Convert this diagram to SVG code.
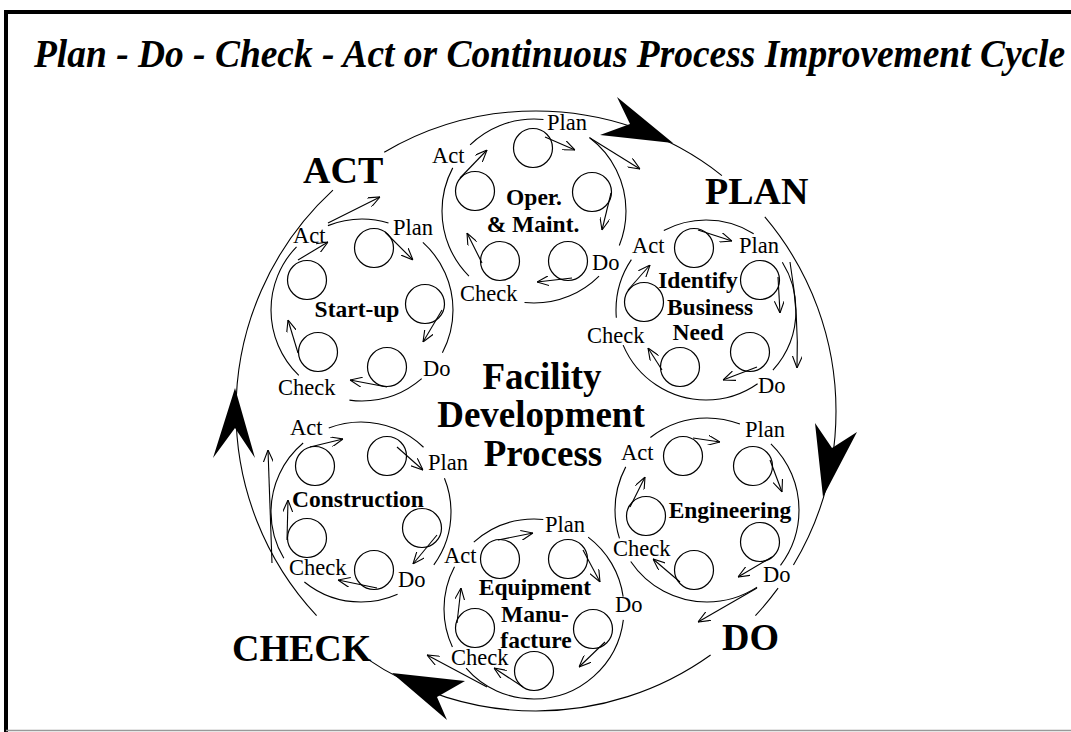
<svg xmlns="http://www.w3.org/2000/svg" width="1071" height="732" viewBox="0 0 1071 732">
  <defs>
    <marker id="ah" markerUnits="userSpaceOnUse" markerWidth="12" markerHeight="10" viewBox="0 0 12 10" refX="12" refY="5" orient="auto">
      <path d="M0,0 L12,5 L0,10" fill="none" stroke="#000" stroke-width="1.1"/>
    </marker>
    <style>
      .ln{fill:none;stroke:#000;stroke-width:1.1}
      .arw{fill:none;stroke:#000;stroke-width:1.1;marker-end:url(#ah)}
      .c{fill:none;stroke:#000;stroke-width:1.2}
      .big{font-family:"Liberation Serif",serif;font-weight:bold;font-size:38px}
      .ctr{font-family:"Liberation Serif",serif;font-weight:bold;font-size:37px;text-anchor:middle}
      .s{font-family:"Liberation Serif",serif;font-size:22.5px}
      .sb{font-family:"Liberation Serif",serif;font-weight:bold;font-size:23.5px;text-anchor:middle}
      .head{fill:#000}
    </style>
  </defs>

  <rect width="1071" height="732" fill="#fff"/>

  <!-- frame -->
  <g id="frame">
    <path d="M6,732 V12 H1071" fill="none" stroke="#000" stroke-width="4"/>
    <line x1="6" y1="730.5" x2="1071" y2="730.5" stroke="#999" stroke-width="1.5"/>
  </g>

  <text id="title" transform="translate(34,67) scale(0.936,1)" x="0" y="0" font-family="Liberation Serif, serif" font-weight="bold" font-style="italic" font-size="40">Plan - Do - Check - Act or Continuous Process Improvement Cycle</text>

  <!-- main cycle connectors -->
  <g id="connectors">
    <circle cx="536" cy="411" r="300" class="ln" pathLength="360" stroke-dasharray="30.9 5.3 6.8 11.4 70.3 12.3 90.4 12.2 68.7 11.4 40.3 0"/>
    <polygon class="head" points="673,143 617,97 630,124 600,135"/>
    <polygon class="head" points="823,497 857,432 832,448 815,423"/>
    <polygon class="head" points="392,673 465,681 437,697 447,720"/>
    <polygon class="head" points="235,388 255,458 235,428 213,458"/>
    <!-- hand-offs between phases -->
    <path class="arw" d="M590,138 L640,169"/>
    <path class="arw" d="M790,262 Q799,315 797,368"/>
    <path class="arw" d="M757,588 L698,622"/>
    <path class="arw" d="M487,687 L427,655"/>
    <path class="arw" d="M272,563 L268,450"/>
    <path class="arw" d="M328,223 L380,197"/>
  </g>

  <g id="act"><text class="big" x="303" y="183">ACT</text></g>
  <g id="plan"><text class="big" x="705" y="204">PLAN</text></g>
  <g id="do"><text class="big" x="722" y="650">DO</text></g>
  <g id="check"><text class="big" x="232" y="661">CHECK</text></g>

  <g id="facility">
    <text class="ctr" x="542" y="389">Facility</text>
    <text class="ctr" x="541" y="427">Development</text>
    <text class="ctr" x="543" y="466">Process</text>
  </g>

  <!-- Operations & Maintenance -->
  <g id="oper-maint">
    <circle class="ln" cx="534" cy="211" r="92" pathLength="360" stroke-dasharray="22 23 51 39 73 18 50 31 53 0"/>
    <circle class="c" cx="533" cy="148" r="19.5"/>
    <circle class="c" cx="592" cy="192" r="19.5"/>
    <circle class="c" cx="568" cy="261" r="19.5"/>
    <circle class="c" cx="500" cy="261" r="19.5"/>
    <circle class="c" cx="475" cy="191" r="19.5"/>
    <path class="arw" d="M545,137 L575,150"/>
    <path class="arw" d="M611,193 L602,230"/>
    <path class="arw" d="M572,278 L537,282"/>
    <path class="arw" d="M482,263 L467,233"/>
    <path class="arw" d="M460,178 L487,150"/>
    <text class="s" x="547" y="130">Plan</text>
    <text class="s" x="432" y="163">Act</text>
    <text class="s" x="592" y="270">Do</text>
    <text class="s" x="460" y="301">Check</text>
    <text class="sb" x="534" y="205">Oper.</text>
    <text class="sb" x="533" y="232">&amp; Maint.</text>
  </g>

  <!-- Identify Business Need -->
  <g id="business-need">
    <circle class="ln" cx="706" cy="310" r="90" pathLength="360" stroke-dasharray="42 13 102 18 39 28 60 26 32 0"/>
    <circle class="c" cx="694" cy="248" r="19.5"/>
    <circle class="c" cx="760" cy="280" r="19.5"/>
    <circle class="c" cx="750" cy="352" r="19.5"/>
    <circle class="c" cx="680" cy="367" r="19.5"/>
    <circle class="c" cx="644" cy="302" r="19.5"/>
    <path class="arw" d="M698,230 L732,241"/>
    <path class="arw" d="M778,277 L780,313"/>
    <path class="arw" d="M757,367 L723,380"/>
    <path class="arw" d="M662,370 L648,348"/>
    <path class="arw" d="M628,290 L650,265"/>
    <text class="s" x="739" y="253">Plan</text>
    <text class="s" x="632" y="253">Act</text>
    <text class="s" x="758" y="393">Do</text>
    <text class="s" x="587" y="343">Check</text>
    <text class="sb" x="698" y="288">Identify</text>
    <text class="sb" x="710" y="315">Business</text>
    <text class="sb" x="698" y="340">Need</text>
  </g>

  <!-- Engineering -->
  <g id="engineering">
    <circle class="ln" cx="707" cy="510" r="92" pathLength="360" stroke-dasharray="37 20 89 16 46 24 59 23 46 0"/>
    <circle class="c" cx="683" cy="456" r="19.5"/>
    <circle class="c" cx="753" cy="466" r="19.5"/>
    <circle class="c" cx="760" cy="542" r="19.5"/>
    <circle class="c" cx="694" cy="570" r="19.5"/>
    <circle class="c" cx="646" cy="516" r="19.5"/>
    <path class="arw" d="M693,438 L720,442"/>
    <path class="arw" d="M770,460 L782,492"/>
    <path class="arw" d="M772,557 L738,577"/>
    <path class="arw" d="M680,582 L653,559"/>
    <path class="arw" d="M630,507 L645,477"/>
    <text class="s" x="745" y="437">Plan</text>
    <text class="s" x="621" y="460">Act</text>
    <text class="s" x="763" y="582">Do</text>
    <text class="s" x="613" y="556">Check</text>
    <text class="sb" x="730" y="518">Engineering</text>
  </g>

  <!-- Equipment Manufacture -->
  <g id="equipment">
    <circle class="ln" cx="534" cy="609" r="90" pathLength="360" stroke-dasharray="0 7 132 16 53 20 48 31 45 8"/>
    <circle class="c" cx="500" cy="559" r="19.5"/>
    <circle class="c" cx="568" cy="559" r="19.5"/>
    <circle class="c" cx="593" cy="629" r="19.5"/>
    <circle class="c" cx="534" cy="671" r="19.5"/>
    <circle class="c" cx="475" cy="628" r="19.5"/>
    <path class="arw" d="M498,540 L533,533"/>
    <path class="arw" d="M583,550 L600,582"/>
    <path class="arw" d="M605,642 L579,667"/>
    <path class="arw" d="M523,687 L494,668"/>
    <path class="arw" d="M457,623 L461,588"/>
    <text class="s" x="545" y="532">Plan</text>
    <text class="s" x="444" y="563">Act</text>
    <text class="s" x="615" y="612">Do</text>
    <text class="s" x="451" y="665">Check</text>
    <text class="sb" x="535" y="595">Equipment</text>
    <text class="sb" x="535" y="622">Manu-</text>
    <text class="sb" x="536" y="648">facture</text>
  </g>

  <!-- Construction -->
  <g id="construction">
    <circle class="ln" cx="361" cy="512" r="90" pathLength="360" stroke-dasharray="36 30 63 20 81 19 65 24 22 0"/>
    <circle class="c" cx="315" cy="466" r="19.5"/>
    <circle class="c" cx="387" cy="456" r="19.5"/>
    <circle class="c" cx="422" cy="528" r="19.5"/>
    <circle class="c" cx="374" cy="570" r="19.5"/>
    <circle class="c" cx="307" cy="538" r="19.5"/>
    <path class="arw" d="M310,447 L343,439"/>
    <path class="arw" d="M397,447 L423,470"/>
    <path class="arw" d="M437,535 L413,564"/>
    <path class="arw" d="M377,588 L338,580"/>
    <path class="arw" d="M287,540 L288,500"/>
    <text class="s" x="290" y="435">Act</text>
    <text class="s" x="428" y="470">Plan</text>
    <text class="s" x="398" y="587">Do</text>
    <text class="s" x="289" y="575">Check</text>
    <text class="sb" x="358" y="507">Construction</text>
  </g>

  <!-- Start-up -->
  <g id="start-up">
    <circle class="ln" cx="362" cy="310" r="91" pathLength="360" stroke-dasharray="28 21 49 36 90 24 39 25 48 0"/>
    <circle class="c" cx="374" cy="248" r="19.5"/>
    <circle class="c" cx="425" cy="304" r="19.5"/>
    <circle class="c" cx="387" cy="367" r="19.5"/>
    <circle class="c" cx="318" cy="352" r="19.5"/>
    <circle class="c" cx="307" cy="280" r="19.5"/>
    <path class="arw" d="M385,232 L413,260"/>
    <path class="arw" d="M442,310 L423,342"/>
    <path class="arw" d="M387,387 L350,380"/>
    <path class="arw" d="M298,353 L288,320"/>
    <path class="arw" d="M298,260 L328,242"/>
    <text class="s" x="293" y="243">Act</text>
    <text class="s" x="393" y="235">Plan</text>
    <text class="s" x="423" y="376">Do</text>
    <text class="s" x="278" y="395">Check</text>
    <text class="sb" x="357" y="317">Start-up</text>
  </g>
</svg>
